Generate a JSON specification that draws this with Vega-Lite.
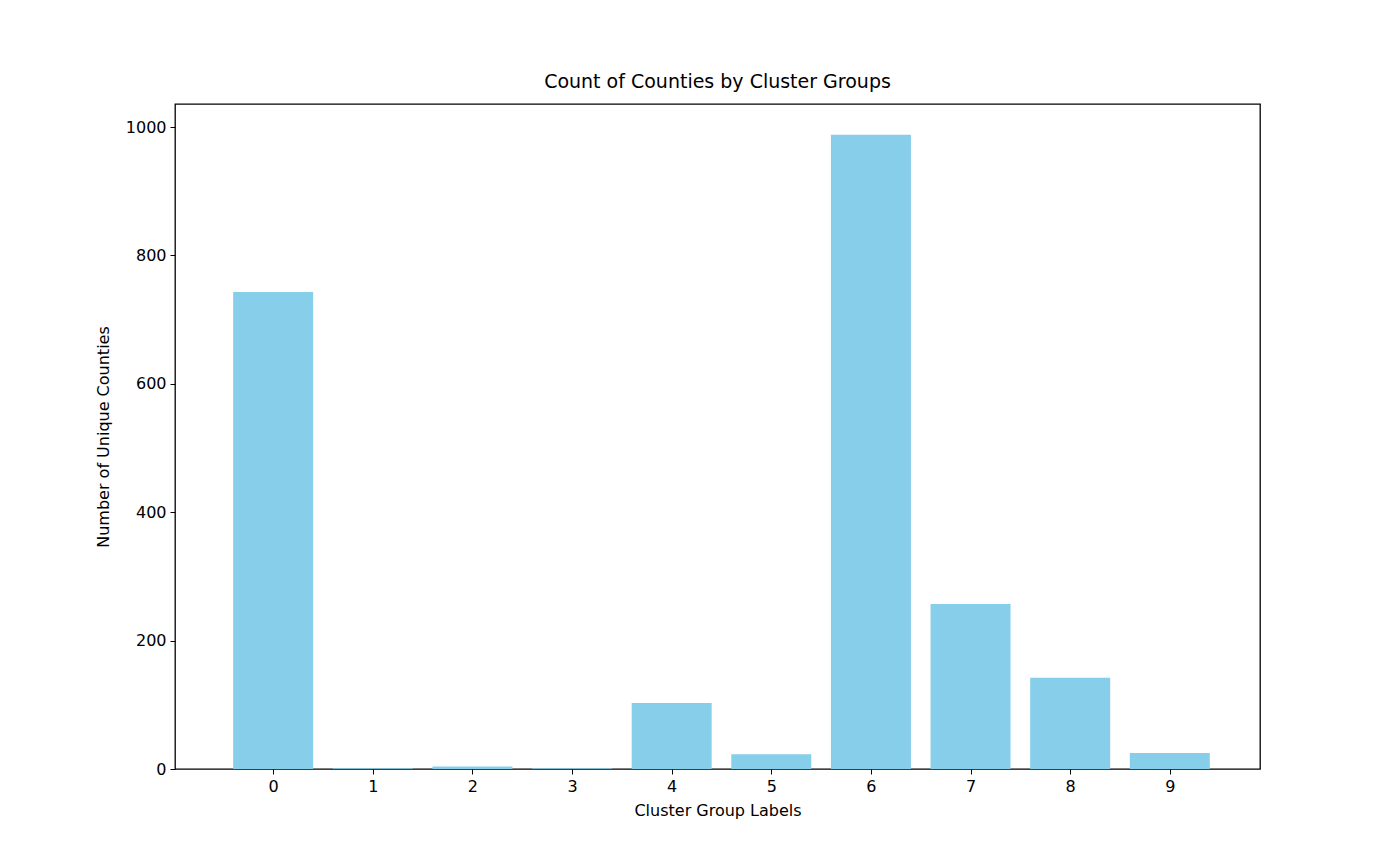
{
  "$schema": "https://vega.github.io/schema/vega-lite/v6.json",
  "autosize": {"type": "none"},
  "padding": {"left": 175, "top": 104, "right": 140, "bottom": 95},
  "width": 1085,
  "height": 665,
  "config": {
    "view": {"stroke": "black", "strokeWidth": 1.3},
    "font": "DejaVu Sans"
  },
  "title": {"text": "Count of Counties by Cluster Groups", "fontSize": 19, "fontWeight": "normal", "font": "DejaVu Sans", "offset": 12, "color": "black"},
  "data": {"values": [
    {"label": 0, "count": 743},
    {"label": 1, "count": 1},
    {"label": 2, "count": 4},
    {"label": 3, "count": 1},
    {"label": 4, "count": 103},
    {"label": 5, "count": 23},
    {"label": 6, "count": 988},
    {"label": 7, "count": 257},
    {"label": 8, "count": 142},
    {"label": 9, "count": 25}
  ]},
  "mark": {"type": "bar", "color": "#87ceeb", "size": 80},
  "encoding": {
    "x": {"field": "label", "type": "quantitative", "title": "Cluster Group Labels",
      "scale": {"domain": [-0.935, 9.855], "nice": false, "zero": false},
      "axis": {"values": [0,1,2,3,4,5,6,7,8,9], "format": "d", "labelPadding": 4, "titlePadding": 8,
        "labelFontSize": 16, "titleFontSize": 16, "titleFontWeight": "normal", "labelColor": "black", "titleColor": "black",
        "tickColor": "black", "domain": false, "grid": false, "tickSize": 5, "labelFont": "DejaVu Sans", "titleFont": "DejaVu Sans"}},
    "y": {"field": "count", "type": "quantitative", "title": "Number of Unique Counties",
      "scale": {"domain": [0, 1036], "nice": false},
      "axis": {"values": [0,200,400,600,800,1000], "format": "d", "labelPadding": 4, "titlePadding": 14,
        "labelFontSize": 16, "titleFontSize": 16, "titleFontWeight": "normal", "labelColor": "black", "titleColor": "black",
        "tickColor": "black", "domain": false, "grid": false, "tickSize": 5, "labelFont": "DejaVu Sans", "titleFont": "DejaVu Sans"}}
  }
}
